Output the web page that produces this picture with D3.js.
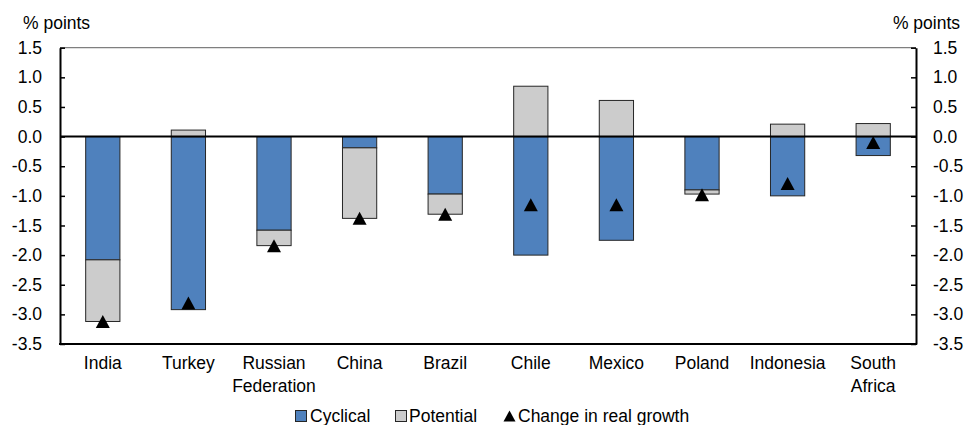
<!DOCTYPE html>
<html>
<head>
<meta charset="utf-8">
<script src="https://cdn.jsdelivr.net/npm/d3@7"></script>
<style>
  html, body { margin: 0; padding: 0; background: #fff; }
  svg { display: block; font-family: "Liberation Sans", Arial, sans-serif; }
</style>
</head>
<body>
<svg id="chart" width="966" height="425"></svg>
<script>
const categories = ["India", "Turkey", "Russian Federation", "China", "Brazil", "Chile", "Mexico", "Poland", "Indonesia", "South Africa"];
const categoryLines = [["India"], ["Turkey"], ["Russian", "Federation"], ["China"], ["Brazil"], ["Chile"], ["Mexico"], ["Poland"], ["Indonesia"], ["South", "Africa"]];
const cyclical = [-2.08, -2.92, -1.58, -0.19, -0.97, -2.00, -1.75, -0.90, -1.00, -0.32];
const potential = [-1.04, 0.11, -0.26, -1.19, -0.34, 0.85, 0.61, -0.07, 0.21, 0.22];
const changeInRealGrowth = [-3.12, -2.81, -1.84, -1.38, -1.31, -1.15, -1.15, -0.98, -0.79, -0.10];
const yTicks = [1.5, 1.0, 0.5, 0.0, -0.5, -1.0, -1.5, -2.0, -2.5, -3.0, -3.5];
const seriesNames = ["Cyclical", "Potential", "Change in real growth"];
const colors = { Cyclical: "#4F81BD", Potential: "#CCCCCC" };

(function () {
const svg = d3.select("#chart");
const mLeft = 60, mRight = 916, mTop = 47.7, mBottom = 344;
const FS = 17.5;

const x = d3.scaleBand().domain(categories).range([mLeft, mRight]).paddingInner(0.6).paddingOuter(0.3);
const y = d3.scaleLinear().domain([-3.5, 1.5]).range([mBottom, mTop]);

// stacking (positive and negative separately)
const segs = [];
categories.forEach((c, i) => {
  let pos = 0, neg = 0;
  [["Cyclical", cyclical[i]], ["Potential", potential[i]]].forEach(([s, v]) => {
    let y0, y1;
    if (v >= 0) { y0 = pos; y1 = pos + v; pos = y1; }
    else { y0 = neg; y1 = neg + v; neg = y1; }
    segs.push({ cat: c, series: s, y0, y1 });
  });
});

// top border
svg.append("line").attr("x1", mLeft).attr("x2", mRight).attr("y1", mTop).attr("y2", mTop)
  .attr("stroke", "#7f7f7f").attr("stroke-width", 1.3);

// bars
svg.append("g").selectAll("rect").data(segs).join("rect")
  .attr("x", d => x(d.cat))
  .attr("width", x.bandwidth())
  .attr("y", d => y(Math.max(d.y0, d.y1)))
  .attr("height", d => Math.abs(y(d.y0) - y(d.y1)))
  .attr("fill", d => colors[d.series])
  .attr("stroke", "#262626").attr("stroke-width", 1);

// zero line
svg.append("line").attr("x1", mLeft).attr("x2", mRight).attr("y1", y(0)).attr("y2", y(0))
  .attr("stroke", "#000").attr("stroke-width", 2);

// triangle symbol (bbox-centred)
const tri = { draw(ctx) { const w = 7, h = 6.5; ctx.moveTo(0, -h); ctx.lineTo(w, h); ctx.lineTo(-w, h); ctx.closePath(); } };
svg.append("g").selectAll("path").data(categories).join("path")
  .attr("d", d3.symbol().type(tri))
  .attr("transform", (c, i) => `translate(${x(c) + x.bandwidth() / 2},${y(changeInRealGrowth[i])})`)
  .attr("fill", "#000");

const fmt = d => d.toFixed(1);
// left axis
const gl = svg.append("g").attr("transform", `translate(${mLeft},0)`)
  .call(d3.axisLeft(y).tickValues(yTicks).tickFormat(fmt).tickSizeInner(-5).tickSizeOuter(0).tickPadding(18));
// right axis
const gr = svg.append("g").attr("transform", `translate(${mRight},0)`)
  .call(d3.axisRight(y).tickValues(yTicks).tickFormat(fmt).tickSizeInner(-5).tickSizeOuter(0).tickPadding(17));
[gl, gr].forEach(g => {
  g.select(".domain").attr("stroke", "#000").attr("stroke-width", 2);
  g.selectAll(".tick line").attr("stroke", "#000").attr("stroke-width", 1.5);
  g.selectAll(".tick text").attr("font-size", FS).attr("fill", "#000").attr("font-family", "Liberation Sans, Arial, sans-serif");
});

// bottom axis line
svg.append("line").attr("x1", mLeft - 1).attr("x2", mRight + 1).attr("y1", mBottom).attr("y2", mBottom)
  .attr("stroke", "#000").attr("stroke-width", 2);

// category labels
const cl = svg.append("g").selectAll("text").data(categories).join("text")
  .attr("x", c => x(c) + x.bandwidth() / 2)
  .attr("y", 368.5)
  .attr("text-anchor", "middle")
  .attr("font-size", FS).attr("fill", "#000");
cl.each(function (c, i) {
  d3.select(this).selectAll("tspan").data(categoryLines[i]).join("tspan")
    .attr("x", x(c) + x.bandwidth() / 2)
    .attr("dy", (d, j) => j === 0 ? 0 : 23.5)
    .text(d => d);
});

// unit labels
svg.append("text").attr("x", 23).attr("y", 29).attr("font-size", FS).text("% points");
svg.append("text").attr("x", 960).attr("y", 29).attr("text-anchor", "end").attr("font-size", FS).text("% points");

// legend
const lg = svg.append("g");
const legendItems = [
  { name: seriesNames[0], type: "rect", sx: 295.5, tx: 310 },
  { name: seriesNames[1], type: "rect", sx: 395.5, tx: 409 },
  { name: seriesNames[2], type: "tri", sx: 509.5, tx: 518 }
];
legendItems.forEach(it => {
  if (it.type === "rect") {
    lg.append("rect").attr("x", it.sx).attr("y", 410.5).attr("width", 11).attr("height", 11)
      .attr("fill", colors[it.name]).attr("stroke", "#262626").attr("stroke-width", 1);
  } else {
    lg.append("path").attr("d", d3.symbol().type({ draw(ctx) { ctx.moveTo(0, -5.5); ctx.lineTo(6, 5.5); ctx.lineTo(-6, 5.5); ctx.closePath(); } }))
      .attr("transform", `translate(${it.sx},416)`).attr("fill", "#000");
  }
  lg.append("text").attr("x", it.tx).attr("y", 421.5).attr("font-size", FS).text(it.name);
});
})();
</script>
</body>
</html>
